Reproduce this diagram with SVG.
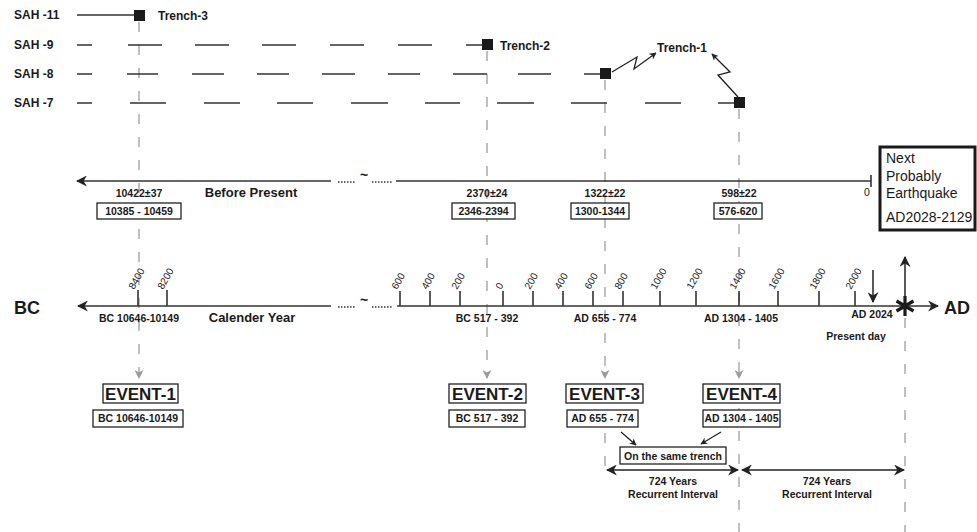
<svg xmlns="http://www.w3.org/2000/svg" width="977" height="532" viewBox="0 0 977 532">
<defs>
<style>
text{font-family:"Liberation Sans",Arial,sans-serif;fill:#1a1a1a}
.sah{font-size:12px;font-weight:bold}
.b{font-weight:bold}
.s10{font-size:10.5px;font-weight:bold}
.tk{font-size:10px}
.lvl{stroke:#333;stroke-width:1.3;fill:none}
.vd{stroke:#aaa;stroke-width:1.5;stroke-dasharray:10 13;fill:none}
.ax{stroke:#333;stroke-width:1.6;fill:none}
.dots{stroke:#333;stroke-width:1.6;stroke-dasharray:1.5 1.5;fill:none}
.box{fill:#fff;stroke:#222;stroke-width:1.3}
.ev{font-size:17px;font-weight:bold}
.sq{fill:#1a1a1a}
</style>
<marker id="ah" viewBox="0 0 10 10" refX="9" refY="5" markerWidth="7" markerHeight="7" orient="auto-start-reverse" markerUnits="userSpaceOnUse">
<path d="M0,0 L10,5 L0,10 L3,5 z" fill="#222"/>
</marker>
<marker id="ahg" viewBox="0 0 10 10" refX="9" refY="5" markerWidth="9" markerHeight="9" orient="auto" markerUnits="userSpaceOnUse">
<path d="M0,0 L10,5 L0,10 L3,5 z" fill="#999"/>
</marker>
<marker id="ahb" viewBox="0 0 10 10" refX="9" refY="5" markerWidth="11" markerHeight="11" orient="auto-start-reverse" markerUnits="userSpaceOnUse">
<path d="M0,0 L10,5 L0,10 L3,5 z" fill="#222"/>
</marker>
</defs>
<rect width="977" height="532" fill="#fff"/>

<g id="connectors">
<line class="vd" x1="139" y1="22" x2="139" y2="378" marker-end="url(#ahg)"/>
<line class="vd" x1="487" y1="51" x2="487" y2="378" marker-end="url(#ahg)"/>
<line class="vd" x1="605" y1="80" x2="605" y2="378" marker-end="url(#ahg)"/>
<line class="vd" x1="605" y1="410" x2="605" y2="470"/>
<line class="vd" x1="739" y1="109" x2="739" y2="378" marker-end="url(#ahg)"/>
<line class="vd" x1="739" y1="408" x2="739" y2="532"/>
<line class="vd" x1="905" y1="318" x2="905" y2="532"/>
<polyline points="612,72 637,57 634,69 656,53" fill="none" stroke="#222" stroke-width="1.3" marker-end="url(#ah)"/>
<polyline points="738,97 718,75 730,72 712,54" fill="none" stroke="#222" stroke-width="1.3" marker-end="url(#ah)"/>
<line x1="621" y1="432" x2="636" y2="445" stroke="#222" stroke-width="1.3" marker-end="url(#ah)"/>
<line x1="721" y1="432" x2="701" y2="444" stroke="#222" stroke-width="1.3" marker-end="url(#ah)"/>
<line x1="607" y1="470" x2="738" y2="470" stroke="#222" stroke-width="1.5" marker-start="url(#ahb)" marker-end="url(#ahb)"/>
<line x1="742" y1="470" x2="904" y2="470" stroke="#222" stroke-width="1.5" marker-start="url(#ahb)" marker-end="url(#ahb)"/>
<line x1="873" y1="270" x2="873" y2="302" stroke="#222" stroke-width="1.5" marker-end="url(#ahb)"/>
<line x1="905" y1="298" x2="905" y2="257" stroke="#222" stroke-width="1.5" marker-end="url(#ahb)"/>
</g>

<g id="stratigraphy">
<text class="sah" x="14" y="19">SAH -11</text>
<text class="sah" x="14" y="49">SAH -9</text>
<text class="sah" x="14" y="78">SAH -8</text>
<text class="sah" x="14" y="107">SAH -7</text>
<line class="lvl" x1="77" y1="15" x2="139" y2="15"/>
<path class="lvl" d="M77,45H92 M128,45H162 M195,45H229 M262,45H296 M330,45H364 M398,45H432 M466,45H487"/>
<path class="lvl" d="M77,74H92 M127,74H158 M192,74H224 M257,74H289 M322,74H355 M388,74H420 M453,74H487 M518,74H551 M584,74H605"/>
<path class="lvl" d="M77,103H92 M130,103H166 M204,103H240 M277,103H313 M351,103H388 M425,103H460 M497,103H534 M571,103H607 M645,103H681 M718,103H739"/>
</g>

<g id="trench-3"><rect class="sq" x="134" y="10" width="11" height="11"/><text class="sah" x="158" y="20">Trench-3</text></g>
<g id="trench-2"><rect class="sq" x="482" y="39" width="11" height="11"/><text class="sah" x="500" y="50">Trench-2</text></g>
<g id="trench-1"><text class="sah" x="657" y="52">Trench-1</text></g>
<g id="t1-sah8"><rect class="sq" x="600" y="68" width="11" height="11"/></g>
<g id="t1-sah7"><rect class="sq" x="734" y="97" width="11" height="11"/></g>

<g id="bp-axis">
<line class="ax" x1="77" y1="181" x2="331" y2="181" marker-start="url(#ahb)"/>
<path class="dots" d="M338,182H356 M372,182H392"/>
<text x="360" y="180" style="font-size:14px;font-weight:bold">~</text>
<line class="ax" x1="396" y1="181" x2="871" y2="181"/>
<line class="ax" x1="871" y1="175" x2="871" y2="187"/>
<text x="867" y="196" font-size="10.5" text-anchor="middle">0</text>
<text x="251" y="197" class="b" font-size="13" text-anchor="middle">Before Present</text>
</g>

<g id="bp1"><text class="s10" x="139" y="197" text-anchor="middle">10422±37</text><rect class="box" x="97" y="203" width="84" height="16"/><text class="s10" x="139" y="215" text-anchor="middle">10385 - 10459</text></g>
<g id="bp2"><text class="s10" x="487" y="197" text-anchor="middle">2370±24</text><rect class="box" x="452" y="203" width="63" height="16"/><text class="s10" x="483.5" y="215" text-anchor="middle">2346-2394</text></g>
<g id="bp3"><text class="s10" x="605" y="197" text-anchor="middle">1322±22</text><rect class="box" x="571" y="203" width="58" height="16"/><text class="s10" x="600" y="215" text-anchor="middle">1300-1344</text></g>
<g id="bp4"><text class="s10" x="739" y="197" text-anchor="middle">598±22</text><rect class="box" x="714" y="203" width="48" height="16"/><text class="s10" x="738" y="215" text-anchor="middle">576-620</text></g>

<g id="next-eq">
<rect x="880" y="147" width="95" height="83" fill="#fff" stroke="#1a1a1a" stroke-width="3"/>
<text x="886" y="163" font-size="14">Next</text>
<text x="886" y="181" font-size="14">Probably</text>
<text x="886" y="198" font-size="14">Earthquake</text>
<text x="886" y="222" font-size="14">AD2028-2129</text>
</g>

<g id="cal-axis">
<text x="14" y="314" class="b" font-size="18">BC</text>
<line class="ax" x1="78" y1="306" x2="331" y2="306" marker-start="url(#ahb)"/>
<path class="dots" d="M338,307H356 M372,307H392"/>
<text x="360" y="305" style="font-size:14px;font-weight:bold">~</text>
<line class="ax" x1="397" y1="306" x2="938" y2="306" marker-end="url(#ahb)"/>
<text x="944" y="314" class="b" font-size="18">AD</text>
<path class="ax" d="M138,290V306 M167,290V306 M400,291V306 M430,291V306 M460,291V306 M503,291V306 M533,291V306 M563,291V306 M593,291V306 M623,291V306 M660,291V306 M696,291V306 M739,291V306 M778,291V306 M819,291V306 M855,291V306"/>
<g class="tk">
<text transform="translate(134,290) rotate(-60)">8400</text>
<text transform="translate(163,290) rotate(-60)">8200</text>
<text transform="translate(397,290) rotate(-60)">600</text>
<text transform="translate(427,290) rotate(-60)">400</text>
<text transform="translate(457,290) rotate(-60)">200</text>
<text transform="translate(501,290) rotate(-60)">0</text>
<text transform="translate(530,290) rotate(-60)">200</text>
<text transform="translate(560,290) rotate(-60)">400</text>
<text transform="translate(590,290) rotate(-60)">600</text>
<text transform="translate(620,290) rotate(-60)">800</text>
<text transform="translate(656,290) rotate(-60)">1000</text>
<text transform="translate(692,290) rotate(-60)">1200</text>
<text transform="translate(735,290) rotate(-60)">1400</text>
<text transform="translate(774,290) rotate(-60)">1600</text>
<text transform="translate(815,290) rotate(-60)">1800</text>
<text transform="translate(851,290) rotate(-60)">2000</text>
</g>
<text class="s10" x="139" y="322" text-anchor="middle">BC 10646-10149</text>
<text x="252" y="322" class="b" font-size="13" text-anchor="middle">Calender Year</text>
<text class="s10" x="487" y="322" text-anchor="middle">BC 517 - 392</text>
<text class="s10" x="605" y="322" text-anchor="middle">AD 655 - 774</text>
<text class="s10" x="741" y="322" text-anchor="middle">AD 1304 - 1405</text>
<text class="s10" x="872" y="318" text-anchor="middle">AD 2024</text>
<text class="s10" x="856" y="340" text-anchor="middle">Present day</text>
<path d="M905,296V316 M896.5,301L913.5,311 M896.5,311L913.5,301" stroke="#1a1a1a" stroke-width="3.2"/>
</g>

<g id="event-1"><rect class="box" x="103" y="384" width="75" height="19"/><text class="ev" x="140.5" y="400" text-anchor="middle">EVENT-1</text><rect class="box" x="93" y="410" width="90" height="17"/><text class="s10" x="138" y="422" text-anchor="middle">BC 10646-10149</text></g>
<g id="event-2"><rect class="box" x="449" y="384" width="77" height="19"/><text class="ev" x="487.5" y="400" text-anchor="middle">EVENT-2</text><rect class="box" x="449" y="410" width="76" height="17"/><text class="s10" x="487" y="422" text-anchor="middle">BC 517 - 392</text></g>
<g id="event-3"><rect class="box" x="566" y="384" width="77" height="19"/><text class="ev" x="604.5" y="400" text-anchor="middle">EVENT-3</text><rect class="box" x="567" y="410" width="71" height="17"/><text class="s10" x="602.5" y="422" text-anchor="middle">AD 655 - 774</text></g>
<g id="event-4"><rect class="box" x="703" y="384" width="77" height="19"/><text class="ev" x="741.5" y="400" text-anchor="middle">EVENT-4</text><rect class="box" x="703" y="410" width="77" height="17"/><text class="s10" x="741.5" y="422" text-anchor="middle">AD 1304 - 1405</text></g>
<g id="same-trench"><rect class="box" x="620" y="447" width="106" height="17"/><text class="s10" x="673" y="459.5" text-anchor="middle">On the same trench</text></g>
<g id="interval-1"><text class="s10" x="673" y="485" text-anchor="middle">724 Years</text><text class="s10" x="673" y="498" text-anchor="middle">Recurrent Interval</text></g>
<g id="interval-2"><text class="s10" x="827" y="485" text-anchor="middle">724 Years</text><text class="s10" x="827" y="498" text-anchor="middle">Recurrent Interval</text></g>
</svg>
